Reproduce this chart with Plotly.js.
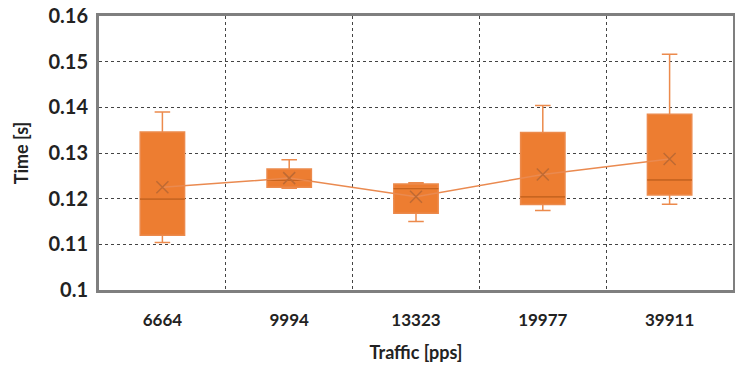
<!DOCTYPE html>
<html><head><meta charset="utf-8">
<script src="https://cdn.plot.ly/plotly-3.0.1.min.js"></script>
<style>html,body{margin:0;padding:0;background:#fff}#c{width:735px;height:370px}</style>
</head><body><div id="c"></div>
<script>
const categories = ["6664", "9994", "13323", "19977", "39911"];
const lowerWhisker = [0.1104, 0.1223, 0.1150, 0.1174, 0.1188];
const q1Values     = [0.1120, 0.1225, 0.1168, 0.1187, 0.1208];
const medianValues = [0.1199, 0.1240, 0.1222, 0.1204, 0.1241];
const q3Values     = [0.1346, 0.1265, 0.1232, 0.1345, 0.1385];
const upperWhisker = [0.1390, 0.1285, 0.1235, 0.1404, 0.1516];
const meanValues   = [0.1225, 0.1245, 0.1204, 0.1253, 0.1287];
const yTicks = [0.1, 0.11, 0.12, 0.13, 0.14, 0.15, 0.16];

const font = "Lato, 'Open Sans', sans-serif";
const traces = [
  {
    type: "box", x: categories,
    q1: q1Values, median: medianValues, q3: q3Values,
    lowerfence: lowerWhisker, upperfence: upperWhisker,
    fillcolor: "#ED7D31", line: {color: "#EC8A4C", width: 1.5},
    whiskerwidth: 0.35, boxpoints: false, showlegend: false, hoverinfo: "skip"
  },
  {
    type: "box", x: categories,
    q1: medianValues, median: medianValues, q3: medianValues,
    lowerfence: medianValues, upperfence: medianValues,
    fillcolor: "rgba(0,0,0,0)", line: {color: "#C8641F", width: 1},
    whiskerwidth: 0, boxpoints: false, showlegend: false, hoverinfo: "skip"
  },
  {
    type: "scatter", mode: "lines+markers", x: categories, y: meanValues,
    line: {color: "#EA8A50", width: 1.5},
    marker: {symbol: "x-thin-open", size: 12, line: {color: "#BF6A33", width: 1.5}, color: "#BF6A33"},
    showlegend: false, hoverinfo: "skip"
  }
];

const layout = {
  width: 735, height: 370,
  margin: {l: 99, r: 2, t: 16, b: 80},
  paper_bgcolor: "#fff", plot_bgcolor: "#fff",
  boxgap: 0.5, boxmode: "overlay",
  font: {family: font, color: "#222"},
  xaxis: {
    type: "category", tickson: "boundaries",
    showgrid: true, gridcolor: "#444", griddash: "dot", gridwidth: 1,
    showline: true, linecolor: "#7f7f7f", linewidth: 3, mirror: true,
    ticks: "", ticklabelstandoff: 13,
    tickfont: {family: font, size: 17, color: "#222", weight: "bold"},
    title: {text: "Traffic [pps]", font: {family: font, size: 18, color: "#222", weight: "bold"}, standoff: 17},
    zeroline: false
  },
  yaxis: {
    range: [0.1, 0.16], tickvals: yTicks,
    showgrid: true, gridcolor: "#444", griddash: "dot", gridwidth: 1,
    showline: true, linecolor: "#7f7f7f", linewidth: 3, mirror: true,
    ticks: "", ticklabelstandoff: 4,
    tickfont: {family: font, size: 20, color: "#222", weight: "bold"},
    title: {text: "Time [s]", font: {family: font, size: 18, color: "#222", weight: "bold"}, standoff: 16},
    zeroline: false
  }
};
Plotly.newPlot("c", traces, layout, {displayModeBar: false, staticPlot: true});
</script></body></html>
